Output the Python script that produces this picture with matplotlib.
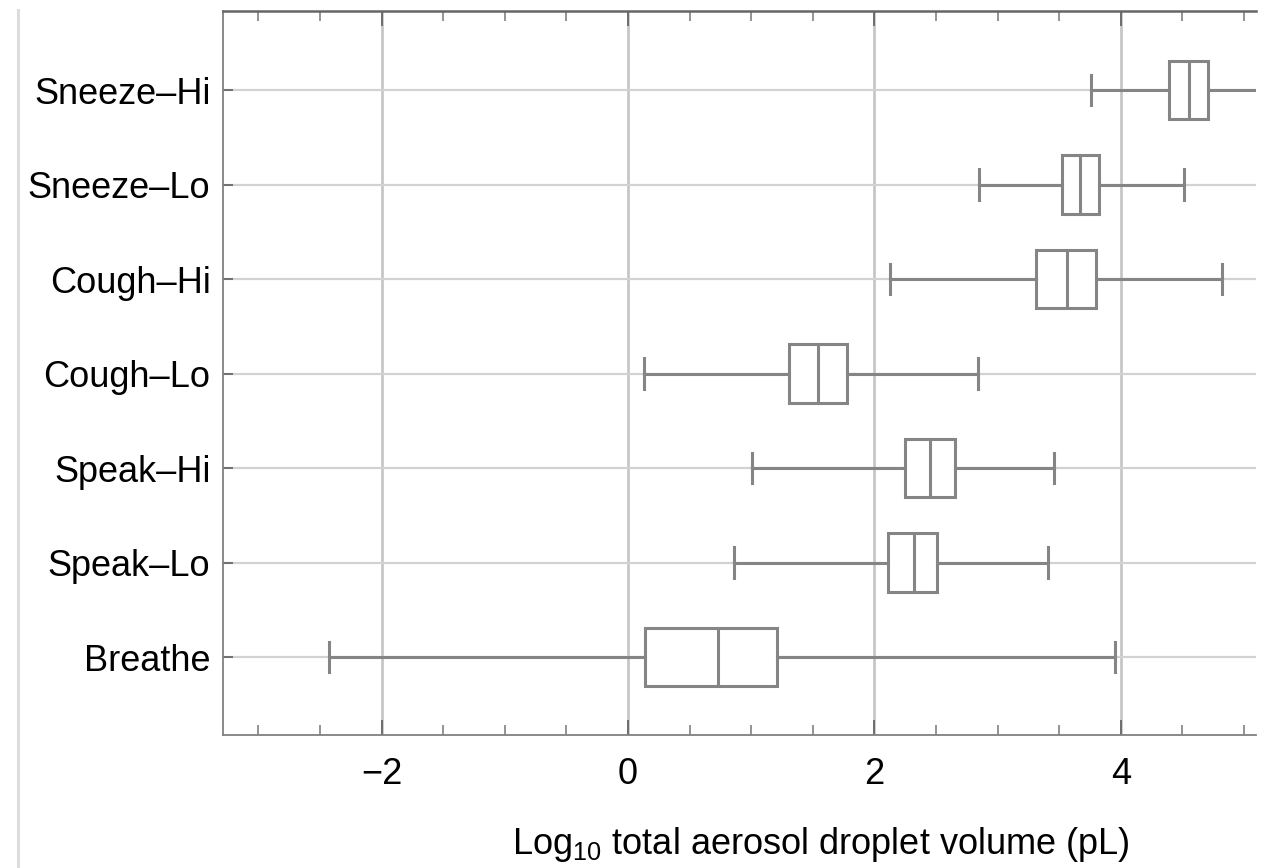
import matplotlib
matplotlib.use("Agg")
import matplotlib.pyplot as plt
from matplotlib.ticker import MultipleLocator, FixedLocator
from matplotlib.lines import Line2D

# ---- data (log10 total aerosol droplet volume, pL) ----
categories = ['Breathe', 'Speak\u2013Lo', 'Speak\u2013Hi', 'Cough\u2013Lo',
              'Cough\u2013Hi', 'Sneeze\u2013Lo', 'Sneeze\u2013Hi']
whislo = [-2.43, 0.86, 1.01, 0.13, 2.13, 2.85, 3.76]
q1     = [0.14, 2.11, 2.25, 1.31, 3.31, 3.52, 4.39]
med    = [0.73, 2.32, 2.45, 1.54, 3.56, 3.67, 4.55]
q3     = [1.21, 2.51, 2.65, 1.78, 3.80, 3.82, 4.71]
whishi = [3.95, 3.41, 3.46, 2.84, 4.82, 4.51, 5.60]
major_ticks = [-2, 0, 2, 4]

plt.rcParams['font.family'] = ['Liberation Sans', 'DejaVu Sans']
plt.rcParams['mathtext.fontset'] = 'custom'
plt.rcParams['mathtext.rm'] = 'Liberation Sans'

fig = plt.figure(figsize=(12.69, 8.68), dpi=100)
ax = fig.add_axes([223/1269, 1 - 735/868, (1256-223)/1269, (735-10.7)/868])

positions = list(range(1, len(categories) + 1))
stats = []
for i, name in enumerate(categories):
    stats.append(dict(label=name, whislo=whislo[i], q1=q1[i], med=med[i],
                      q3=q3[i], whishi=whishi[i], fliers=[]))

box_col = '#858585'
lw = 2.2
ax.bxp(stats, positions=positions, vert=False, widths=0.62, capwidths=0.32,
       patch_artist=True, showfliers=False,
       boxprops=dict(facecolor='white', edgecolor=box_col, linewidth=lw),
       medianprops=dict(color=box_col, linewidth=lw),
       whiskerprops=dict(color=box_col, linewidth=lw),
       capprops=dict(color=box_col, linewidth=lw), zorder=3)

ax.set_xlim(-3.287, 5.097)
ax.set_ylim(0.175, 7.84)

# grid lines
for x in major_ticks:
    ax.axvline(x, color='#c4c4c4', lw=1.9, zorder=1)
for y in positions:
    ax.axhline(y, color='#d2d2d2', lw=1.6, zorder=1)

ax.xaxis.set_major_locator(FixedLocator(major_ticks))
ax.xaxis.set_minor_locator(MultipleLocator(0.5))
ax.set_yticks(positions)
ax.set_yticklabels(categories)

ax.tick_params(axis='x', which='major', direction='in', length=11, width=1.3,
               color='#666666', top=True, labelsize=26, pad=16)
ax.tick_params(axis='x', which='minor', direction='in', length=7, width=1.1,
               color='#777777', top=True)
ax.tick_params(axis='y', which='major', direction='in', length=7, width=1.1,
               color='#555555', labelsize=26, pad=9)

for side in ['left', 'bottom']:
    ax.spines[side].set_color('#808080')
    ax.spines[side].set_linewidth(1.3)
ax.spines['top'].set_color('#666666')
ax.spines['top'].set_linewidth(1.8)
ax.spines['right'].set_visible(False)

ax.set_xlabel(r'Log$_{\mathregular{10}}$ total aerosol droplet volume (pL)',
              fontsize=26, va='baseline')
ax.xaxis.set_label_coords((821 - 223) / 1033, -(854 - 735) / 724.3)

# faint border line at left edge of the figure
fig.add_artist(Line2D([18/1269, 18/1269], [0, 1 - 10/868],
                      transform=fig.transFigure, color='#dcdcdc', lw=2.2))

fig.savefig('out.png', dpi=100)
